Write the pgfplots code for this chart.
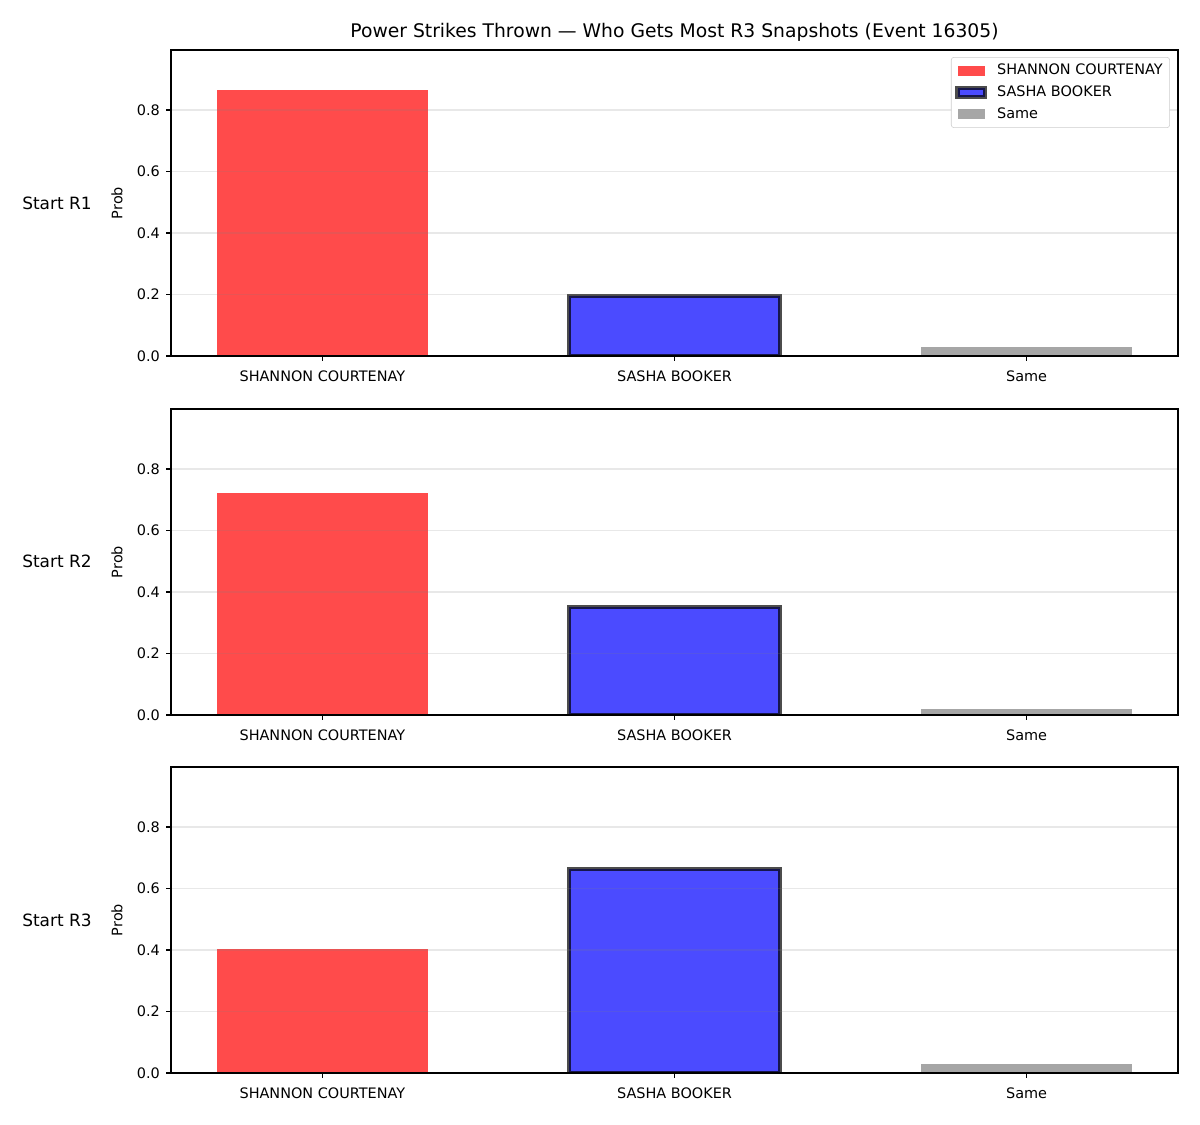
\documentclass[border=0pt]{standalone}
\usepackage{pgfplots}
\pgfplotsset{compat=1.18}
\usepackage{fontspec}
\setmainfont{DejaVu Sans}
\definecolor{bred}{RGB}{255,75,75}
\definecolor{bblue}{RGB}{75,75,255}
\definecolor{bgray}{RGB}{166,166,166}
\pgfplotsset{panel/.style={
  scale only axis, width=725.04pt, height=220.32pt,
  xmin=-0.43, xmax=2.43, ymin=0, ymax=0.995,
  xtick={0,1,2}, xticklabels={SHANNON COURTENAY, SASHA BOOKER, Same},
  ytick={0,0.2,0.4,0.6,0.8},
  /pgf/number format/assume math mode=true,
  tick label style={font=\fontsize{10.4}{12.5}\selectfont},
  xticklabel style={yshift=-3.5pt},
  yticklabel style={xshift=-1pt, /pgf/number format/.cd, fixed, fixed zerofill, precision=1},
  xtick pos=left, ytick pos=left, tick align=outside,
  major tick length=3.5pt,
  tick style={line width=0.8pt, black},
  axis line style={line width=0.8pt},
  ymajorgrids, grid style={line width=0.8pt, gray, opacity=0.18},
  axis on top,
  ylabel={Prob},
  ylabel style={font=\fontsize{10.4}{12.5}\selectfont, at={(axis description cs:-0.0537,0.5)}, anchor=center},
  every axis plot/.append style={ybar, bar width=0.6, bar shift=0pt,
    legend image code/.code={\path[sharp corners,##1] (0pt,-3.5pt) rectangle (20pt,3.5pt);}},
}}
\begin{document}
\begin{tikzpicture}
\useasboundingbox (-123.12pt,-553.68pt) rectangle (740.88pt,256.32pt);
\node[font=\fontsize{13.5}{16}\selectfont] at (362.52pt,233.3pt) {Power Strikes Thrown — Who Gets Most R3 Snapshots (Event 16305)};
\begin{axis}[panel, at={(0pt,0pt)}, anchor=south west,
  legend style={at={(axis description cs:0.992,0.977)}, anchor=north east, draw=black!20, rounded corners=2pt,
    font=\fontsize{10.4}{12.5}\selectfont, cells={anchor=west}, row sep=5.5pt, column sep=5pt,
    inner xsep=3pt, inner ysep=4.5pt,
    nodes={inner xsep=2pt, inner ysep=0.5pt}}]
\addplot[fill=bred, draw=none] coordinates {(0,0.865)};
\addplot[fill=bblue, draw=black, draw opacity=0.7, line width=3pt] coordinates {(1,0.196)};
\addplot[fill=bgray, draw=none] coordinates {(2,0.03)};
\legend{SHANNON COURTENAY, SASHA BOOKER, Same}
\end{axis}
\begin{axis}[panel, at={(0pt,-258.48pt)}, anchor=south west]
\addplot[fill=bred, draw=none] coordinates {(0,0.723)};
\addplot[fill=bblue, draw=black, draw opacity=0.7, line width=3pt] coordinates {(1,0.350)};
\addplot[fill=bgray, draw=none] coordinates {(2,0.02)};
\end{axis}
\begin{axis}[panel, at={(0pt,-516.24pt)}, anchor=south west]
\addplot[fill=bred, draw=none] coordinates {(0,0.402)};
\addplot[fill=bblue, draw=black, draw opacity=0.7, line width=3pt] coordinates {(1,0.663)};
\addplot[fill=bgray, draw=none] coordinates {(2,0.03)};
\end{axis}
\node[font=\fontsize{12.2}{14}\selectfont] at (-82.08pt,110.16pt) {Start R1};
\node[font=\fontsize{12.2}{14}\selectfont] at (-82.08pt,-147.96pt) {Start R2};
\node[font=\fontsize{12.2}{14}\selectfont] at (-82.08pt,-406.08pt) {Start R3};
\end{tikzpicture}
\end{document}
